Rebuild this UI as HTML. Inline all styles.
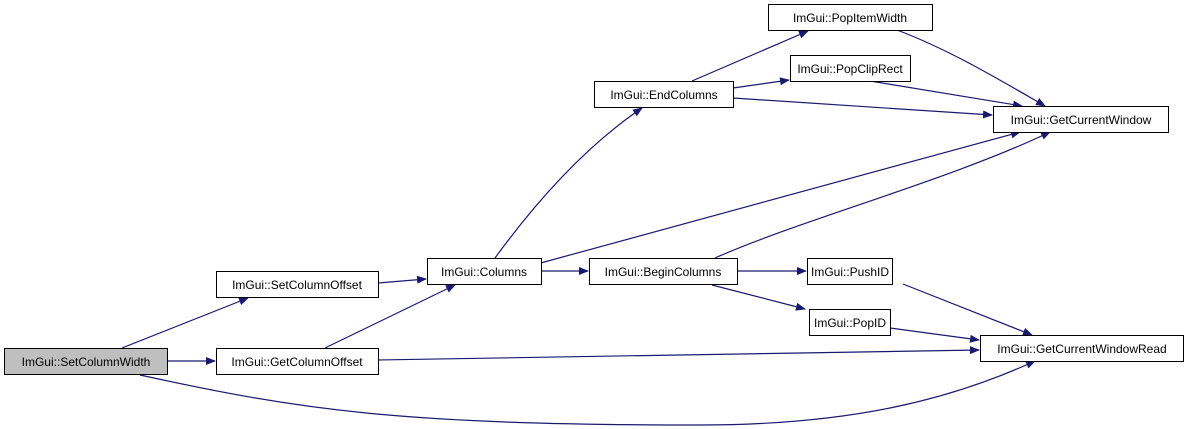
<!DOCTYPE html>
<html><head><style>
body{margin:0;background:#fff;width:1188px;height:429px;overflow:hidden}
svg{position:absolute;left:0;top:0}
text{font-family:"Liberation Sans",Arial,sans-serif;font-size:12px;fill:#000}
</style></head><body>
<svg width="1188" height="429" viewBox="0 0 1188 429">
<defs><marker id="a" markerWidth="10" markerHeight="8" refX="9" refY="4" orient="auto" markerUnits="userSpaceOnUse"><path d="M0,0 L10,4 L0,8 z" fill="#191970"/></marker></defs>
<g fill="none" stroke="#191970" stroke-width="1.2" marker-end="url(#a)">
<path d="M122,348 L248,298"/>
<path d="M167,361 L215,361"/>
<path d="M140,375 C300,410 400,425 700,425 C850,425 950,400 1035,361"/>
<path d="M378,283 L426,279"/>
<path d="M325,348 L455,285"/>
<path d="M378,360 L979,350"/>
<path d="M495,258 C530,210 580,150 642,108"/>
<path d="M537,264 L1020,132"/>
<path d="M541,271 L588,271"/>
<path d="M715,258 C800,220 950,180 1050,132"/>
<path d="M737,271 L806,271"/>
<path d="M712,285 L805,309"/>
<path d="M692,81 L808,31"/>
<path d="M733,88 L789,80"/>
<path d="M733,98 L992,115"/>
<path d="M897,30 C950,50 1000,80 1045,106"/>
<path d="M870,81 L1022,106"/>
<path d="M903,284 L1032,335"/>
<path d="M890,328 L979,340"/>
</g>
<g stroke="#000" stroke-width="1">
<rect x="4.5" y="348.5" width="163" height="26" fill="#bfbfbf"/>
<rect x="216.5" y="271.5" width="162" height="26" fill="#fff"/>
<rect x="216.5" y="348.5" width="162" height="26" fill="#fff"/>
<rect x="427.5" y="258.5" width="114" height="26" fill="#fff"/>
<rect x="589.5" y="258.5" width="148" height="26" fill="#fff"/>
<rect x="594.5" y="81.5" width="139" height="26" fill="#fff"/>
<rect x="768.5" y="4.5" width="164" height="26" fill="#fff"/>
<rect x="790.5" y="55.5" width="120" height="26" fill="#fff"/>
<rect x="993.5" y="106.5" width="175" height="26" fill="#fff"/>
<rect x="807.5" y="258.5" width="85" height="26" fill="#fff"/>
<rect x="809.5" y="309.5" width="81" height="26" fill="#fff"/>
<rect x="980.5" y="335.5" width="203" height="26" fill="#fff"/>
</g>
<g text-anchor="middle">
<text x="86" y="366">ImGui::SetColumnWidth</text>
<text x="297" y="289">ImGui::SetColumnOffset</text>
<text x="297" y="366">ImGui::GetColumnOffset</text>
<text x="484" y="276">ImGui::Columns</text>
<text x="663" y="276">ImGui::BeginColumns</text>
<text x="664" y="99">ImGui::EndColumns</text>
<text x="850" y="22">ImGui::PopItemWidth</text>
<text x="850" y="73">ImGui::PopClipRect</text>
<text x="1081" y="124">ImGui::GetCurrentWindow</text>
<text x="850" y="276">ImGui::PushID</text>
<text x="850" y="327">ImGui::PopID</text>
<text x="1082" y="353">ImGui::GetCurrentWindowRead</text>
</g>
</svg>
</body></html>
